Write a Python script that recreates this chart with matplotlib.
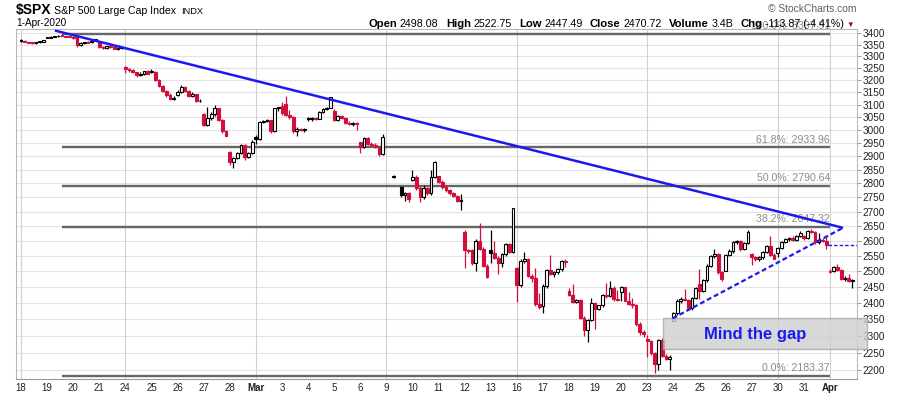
import numpy as np
import matplotlib
matplotlib.use('Agg')
import matplotlib.pyplot as plt
from matplotlib.patches import Rectangle
from matplotlib.ticker import FixedLocator, FixedFormatter, NullLocator

plt.rcParams['font.family'] = ['Liberation Sans', 'DejaVu Sans']

nan = np.nan

# hourly bars, 7 per trading day, Feb 18 .. Apr 1 2020
day_labels = ['18', '19', '20', '21', '24', '25', '26', '27', '28', 'Mar',
              '3', '4', '5', '6', '9', '10', '11', '12', '13', '16',
              '17', '18', '19', '20', '23', '24', '25', '26', '27', '30',
              '31', 'Apr']

opens = [
  3369, 3368, 3362, 3360, 3356, 3361, 3364,
  3380, 3382, 3384, 3387, 3389, 3388, 3387,
  3380, 3384, 3350, 3356, 3362, 3360, 3367,
  3360, 3340, 3336, 3344, 3341, 3333, 3336,
  3257, 3248, 3244, 3234, 3222, 3224, 3238,
  3239, 3236, 3202, 3178, 3156, 3138, 3125,
  3140, 3152, 3170, 3155, 3136, 3142, 3114,
  3062, 3020, 3048, 3062, 3085, 3040, 2996,
  2917, 2880, 2895, 2912, 2944, 2898, 2912,
  2974, 2965, 3032, 3036, 3038, 2996, 3085,
  3096, 3102, 3060, 3050, 2996, 3006, 2999,
  3046, 3042, 3046, 3044, 3072, 3082, 3088,
  3076, 3040, 3055, 3048, 3028, 3022, 3026,
  2954, 2936, 2968, 2948, 2944, 2936, 2910,
  nan, nan, 2822, nan, 2786, 2758, 2766,
  2813, 2824, 2784, 2752, 2782, 2765, 2825,
  2826, 2806, 2786, 2776, 2766, 2756, 2738,
  2631, 2570, 2568, 2526, 2598, 2574, 2518,
  2570, 2560, 2544, 2526, 2556, 2588, 2564,
  2509, 2456, 2534, 2538, 2484, 2478, 2395,
  2390, 2452, 2505, 2492, 2496, 2506, 2532,
  2436, 2425, 2402, 2408, 2354, 2316, 2348,
  2398, 2380, 2392, 2425, 2420, 2446, 2410,
  2432, 2448, 2405, 2395, 2392, 2336, 2310,
  2291, 2284, 2248, 2216, 2286, 2240, 2232,
  2344, 2368, 2405, 2412, 2408, 2384, 2415,
  2458, 2436, 2470, 2518, 2550, 2556, 2496,
  2501, 2552, 2566, 2596, 2598, 2572, 2592,
  2556, 2545, 2538, 2545, 2562, 2582, 2552,
  2559, 2576, 2596, 2606, 2611, 2601, 2615,
  2615, 2608, 2634, 2630, 2596, 2604, 2600,
  2498, 2500, 2514, 2504, 2474, 2478, 2468,
]
highs = [
  3375, 3370, 3364, 3361, 3363, 3366, 3371,
  3384, 3386, 3389, 3391, 3393.5, 3390, 3389,
  3389, 3385, 3360, 3364, 3368, 3370, 3376,
  3361, 3345, 3346, 3348, 3343, 3340, 3342,
  3260, 3252, 3246, 3236, 3232, 3240, 3242,
  3247, 3238, 3206, 3182, 3160, 3146, 3135,
  3158, 3182, 3174, 3160, 3150, 3145, 3122,
  3068, 3092, 3070, 3097, 3088, 3044, 3002,
  2920, 2898, 2916, 2946, 2948, 2916, 2960,
  2980, 3036, 3040, 3042, 3040, 3088, 3091,
  3110, 3137, 3078, 3054, 3012, 3010, 3008,
  3052, 3050, 3052, 3075, 3086, 3092, 3131,
  3083, 3058, 3060, 3052, 3034, 3030, 3030,
  2956, 2972, 2972, 2956, 2950, 2940, 2986,
  nan, nan, 2830, nan, 2792, 2770, 2768,
  2848, 2830, 2790, 2796, 2786, 2848, 2883,
  2826, 2812, 2795, 2780, 2770, 2760, 2762,
  2636, 2574, 2572, 2605, 2661, 2580, 2522,
  2635, 2600, 2548, 2560, 2592, 2594, 2711.3,
  2512, 2540, 2563, 2542, 2492, 2510, 2430,
  2458, 2508, 2554, 2500, 2510, 2536, 2540,
  2445, 2458, 2412, 2412, 2358, 2350, 2414,
  2402, 2394, 2428, 2461, 2467, 2452, 2440,
  2453, 2450, 2432, 2414, 2396, 2340, 2318,
  2301, 2288, 2252, 2290, 2292, 2246, 2244,
  2372, 2412, 2418, 2442, 2412, 2418, 2450,
  2508, 2474, 2522, 2554, 2571, 2560, 2500,
  2556, 2572, 2600, 2602, 2602, 2596, 2637,
  2560, 2550, 2548, 2566, 2586, 2616, 2560,
  2580, 2600, 2610, 2614, 2615, 2618, 2632,
  2620, 2638, 2641.4, 2634, 2625, 2608, 2612,
  2506, 2518, 2523, 2508, 2484, 2490, 2476,
]
lows = [
  3364, 3360, 3358, 3355, 3355, 3359, 3362,
  3378, 3380, 3382, 3385, 3386, 3384, 3383,
  3375, 3341, 3345, 3352, 3358, 3358, 3365,
  3335, 3330, 3333, 3338, 3330, 3329, 3332,
  3230, 3236, 3228, 3215, 3216, 3220, 3224,
  3230, 3198, 3172, 3150, 3132, 3119, 3120,
  3136, 3148, 3150, 3132, 3130, 3109, 3110,
  3015, 3016, 3040, 3055, 3036, 2990, 2977,
  2866, 2856, 2890, 2908, 2886, 2893, 2908,
  2945, 2960, 3026, 3030, 2990, 2992, 3075,
  3060, 3055, 3045, 2990, 2977, 2995, 2994,
  3034, 3036, 3040, 3042, 3068, 3078, 3085,
  3036, 3036, 3044, 3024, 3018, 3016, 3000,
  2914, 2932, 2944, 2940, 2932, 2902, 2906,
  nan, nan, 2820, nan, 2750, 2738, 2735,
  2810, 2778, 2734, 2745, 2760, 2760, 2820,
  2800, 2780, 2768, 2760, 2750, 2732, 2707,
  2510, 2560, 2520, 2500, 2570, 2512, 2479,
  2526, 2540, 2492, 2512, 2550, 2560, 2560,
  2402, 2450, 2528, 2480, 2466, 2390, 2381,
  2367, 2446, 2488, 2480, 2490, 2500, 2515,
  2420, 2398, 2398, 2350, 2298, 2281, 2345,
  2320, 2376, 2388, 2415, 2418, 2406, 2404,
  2404, 2405, 2393, 2385, 2330, 2302, 2296,
  2236, 2244, 2192, 2200, 2236, 2228, 2200,
  2344, 2362, 2398, 2404, 2380, 2378, 2412,
  2410, 2432, 2466, 2514, 2542, 2490, 2468,
  2500, 2548, 2560, 2590, 2566, 2568, 2588,
  2520, 2532, 2534, 2540, 2558, 2548, 2538,
  2545, 2572, 2592, 2600, 2598, 2598, 2612,
  2604, 2605, 2626, 2590, 2588, 2596, 2571,
  2494, 2497, 2500, 2470, 2468, 2464, 2447,
]
closes = [
  3368, 3362, 3360, 3356, 3361, 3364, 3370,
  3382, 3384, 3387, 3389, 3388, 3387, 3386,
  3384, 3350, 3356, 3362, 3360, 3367, 3373,
  3340, 3336, 3344, 3341, 3333, 3336, 3338,
  3248, 3244, 3234, 3222, 3224, 3238, 3226,
  3236, 3202, 3178, 3156, 3138, 3125, 3128,
  3152, 3170, 3155, 3136, 3142, 3114, 3116,
  3020, 3048, 3062, 3085, 3040, 2996, 2979,
  2880, 2895, 2912, 2944, 2898, 2912, 2954,
  2965, 3032, 3036, 3038, 2996, 3085, 3090,
  3066, 3060, 3050, 2996, 3006, 2999, 3003,
  3042, 3046, 3044, 3072, 3082, 3088, 3130,
  3040, 3055, 3048, 3028, 3022, 3026, 3024,
  2936, 2968, 2948, 2944, 2936, 2910, 2972,
  nan, nan, 2828, nan, 2758, 2766, 2746,
  2824, 2784, 2752, 2782, 2765, 2825, 2880,
  2806, 2786, 2776, 2766, 2756, 2738, 2741,
  2570, 2568, 2526, 2598, 2574, 2518, 2481,
  2560, 2544, 2526, 2556, 2588, 2564, 2711,
  2456, 2534, 2538, 2484, 2478, 2395, 2386,
  2452, 2505, 2492, 2496, 2506, 2532, 2529,
  2425, 2402, 2408, 2354, 2316, 2348, 2398,
  2380, 2392, 2425, 2420, 2446, 2410, 2409,
  2448, 2405, 2395, 2392, 2336, 2310, 2305,
  2284, 2248, 2216, 2286, 2240, 2232, 2237,
  2368, 2405, 2412, 2408, 2384, 2415, 2447,
  2436, 2470, 2518, 2550, 2556, 2496, 2476,
  2552, 2566, 2596, 2598, 2572, 2592, 2630,
  2545, 2538, 2545, 2562, 2582, 2552, 2541,
  2576, 2596, 2606, 2611, 2601, 2615, 2627,
  2608, 2634, 2630, 2596, 2604, 2600, 2585,
  2500, 2514, 2504, 2474, 2478, 2468, 2471,
]

fib_pct = ['100.0%', '61.8%', '50.0%', '38.2%', '0.0%']
fib_val = [3397.91, 2933.96, 2790.64, 2647.32, 2183.37]

header_names = ['Open', 'High', 'Low', 'Close', 'Volume', 'Chg']
header_vals = ['2498.08', '2522.75', '2447.49', '2470.72', '3.4B', '-113.87 (-4.41%)']

bars_per_day = 7
RED = '#d0103a'
BLUE = '#1a1af0'
W, H = 900, 396

fig = plt.figure(figsize=(W / 100, H / 100), dpi=100)
ax = fig.add_axes([16 / W, 1 - 379 / H, 841 / W, 350 / H])

x = np.arange(len(closes))
ax.set_yscale('log')
ax.set_ylim(2174.6, 3418.9)
ax.set_xlim(-1.34, 224.25)

# grid
yt = list(range(2200, 3401, 50))
ax.yaxis.set_major_locator(FixedLocator(yt))
ax.yaxis.set_major_formatter(FixedFormatter([str(v) for v in yt]))
ax.yaxis.set_minor_locator(NullLocator())
for v in yt:
  ax.axhline(v, color='#e3e3e3', lw=0.8, zorder=0)
for d in [0, 4, 9, 14, 19, 24, 29, 31]:
  ax.axvline(d * bars_per_day, color='#d2d2d2', lw=0.8, zorder=0)

# candles
prev = nan
for i in x:
  o, h, l, c = opens[i], highs[i], lows[i], closes[i]
  if np.isnan(c):
    prev = nan
    continue
  col = RED if (not np.isnan(prev) and c < prev) else 'black'
  face = col if c < o else 'white'
  ax.vlines(i, l, h, color=col, lw=0.9, zorder=3)
  bh = max(abs(c - o), 0.0012 * o)
  ax.bar(i, bh, bottom=min(o, c) - (bh - abs(c - o)) / 2, width=0.74,
         facecolor=face, edgecolor=col, linewidth=0.8, zorder=4)
  prev = c

# fibonacci levels
for p, v in zip(fib_pct, fib_val):
  ax.plot([11, 217], [v, v], color='#666666', lw=1.7, zorder=2, solid_capstyle='butt')
  ax.annotate('%s: %.2f' % (p, v), (217, v), xytext=(0, 2), textcoords='offset points',
              ha='right', va='bottom', fontsize=7.6, color='#8a8a8a', zorder=1,
              annotation_clip=False)

# trend lines
ax.plot([9.1, 220.5], [3412, 2644], color=BLUE, lw=1.8, zorder=6, solid_capstyle='butt')
ax.plot([174.8, 220.5], [2352, 2644], color=BLUE, lw=1.6, ls=(0, (2.2, 1.3)), zorder=6)
ax.plot([216.5, 224.25], [2584.59, 2584.59], color=BLUE, lw=1.0, ls=(0, (2.5, 1.5)), zorder=6)

# gap box
ax.add_patch(Rectangle((172.2, 2260), 227 - 172.2, 2353 - 2260, facecolor='#cfcfcf',
                       edgecolor='#a8a8a8', lw=1.0, alpha=0.8, zorder=5, clip_on=False))
ax.text(196.9, 2302, 'Mind the gap', color=BLUE, fontsize=12, fontweight='bold',
        ha='center', va='center', zorder=7)

# axes styling
for s in ['top', 'left', 'right']:
  ax.spines[s].set_color('#b8b8b8')
  ax.spines[s].set_linewidth(0.8)
ax.spines['bottom'].set_color('#999999')
ax.spines['bottom'].set_linestyle((0, (1, 1)))
ax.yaxis.tick_right()
ax.tick_params(axis='y', labelsize=7.2, length=3, width=0.6, color='#888888',
               pad=1, labelcolor='#222222')
ax.set_xticks([d * bars_per_day for d in range(len(day_labels))])
ax.set_xticklabels(day_labels)
ax.tick_params(axis='x', labelsize=7, length=0, pad=3, labelcolor='#222222')
for t in ax.get_xticklabels():
  if t.get_text() in ('Mar', 'Apr'):
    t.set_fontweight('bold')

# header
def px(xp, yp):
  return xp / W, 1 - yp / H

fig.text(*px(16, 13.8), '$SPX', fontsize=10, fontweight='bold', va='baseline')
fig.text(*px(54, 13.5), 'S&P 500 Large Cap Index', fontsize=7.6, va='baseline')
fig.text(*px(181.5, 13.5), 'INDX', fontsize=6.7, va='baseline')
fig.text(*px(16.5, 26.5), '1-Apr-2020', fontsize=7.2, va='baseline')
fig.text(*px(856, 12.3), '\u00a9 StockCharts.com', fontsize=7.4, color='#606060',
         ha='right', va='baseline')

r = fig.canvas.get_renderer()
xpos = 368.5
for name, val in zip(header_names, header_vals):
  t1 = fig.text(*px(xpos, 26.7), name, fontsize=8.1, fontweight='bold', va='baseline')
  xpos += t1.get_window_extent(renderer=r).width + 2.5
  t2 = fig.text(*px(xpos, 26.7), val, fontsize=7.7, va='baseline')
  xpos += t2.get_window_extent(renderer=r).width + 7.5
fig.text(*px(xpos - 5, 26.7), '\u25bc', fontsize=5.5, color='#990033', va='baseline')

fig.savefig('out.png', dpi=100)
